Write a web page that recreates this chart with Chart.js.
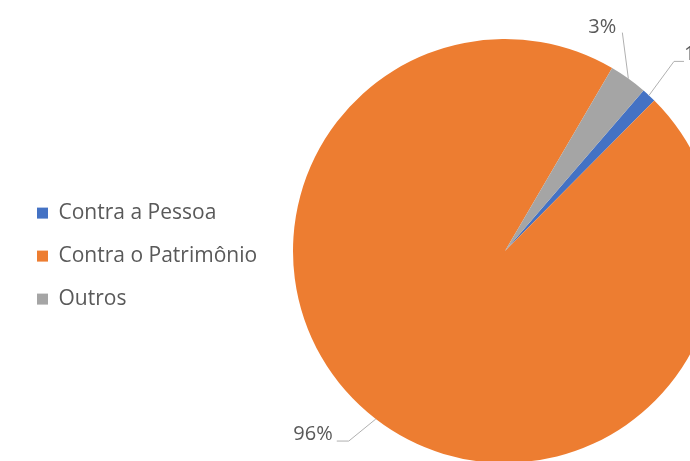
<!DOCTYPE html>
<html>
<head>
<meta charset="utf-8">
<script src="https://cdn.jsdelivr.net/npm/chart.js@4/dist/chart.umd.min.js"></script>
<style>
html,body{margin:0;padding:0;background:#fff;overflow:hidden;width:690px;height:461px}
#wrap{position:absolute;left:0;top:0;width:800px;height:500px}
</style>
</head>
<body>
<div id="wrap"><canvas id="pie" width="800" height="500"></canvas></div>
<script>
var categories = ['Contra a Pessoa', 'Contra o Patrimônio', 'Outros'];
var shares = [1.1, 96.0, 2.9];
var shareLabels = ['1%', '96%', '3%'];
var sliceColors = ['#4472C4', '#ED7D31', '#A5A5A5'];

// leader lines: elbow offset from the slice edge, horizontal tail, text offset from line end
var leaderLayout = [
  {elbow: [25, -34], tail: 10, text: [0, -7], align: 'left'},
  {elbow: [-27, 22], tail: -12, text: [-4, -7], align: 'right'},
  {elbow: [-6, -46], tail: 0, text: [-20, -5], align: 'center'}
];

var leaderLabels = {
  id: 'leaderLabels',
  afterDatasetsDraw: function(chart){
    var ctx = chart.ctx;
    var arcs = chart.getDatasetMeta(0).data;
    ctx.save();
    arcs.forEach(function(arc, i){
      var p = arc.getProps(['x','y','startAngle','endAngle','outerRadius'], true);
      var mid = (p.startAngle + p.endAngle) / 2;
      var ex = p.x + Math.cos(mid) * p.outerRadius;
      var ey = p.y + Math.sin(mid) * p.outerRadius;
      var lay = leaderLayout[i];
      var bx = ex + lay.elbow[0], by = ey + lay.elbow[1];
      var tx = bx + lay.tail;
      ctx.strokeStyle = '#b0b0b0';
      ctx.lineWidth = 1;
      ctx.beginPath();
      ctx.moveTo(ex, ey);
      ctx.lineTo(bx, by);
      if(lay.tail) ctx.lineTo(tx, by);
      ctx.stroke();
      ctx.fillStyle = '#595959';
      ctx.font = '20px "Open Sans"';
      ctx.textAlign = lay.align;
      ctx.textBaseline = 'middle';
      ctx.fillText(shareLabels[i], tx + lay.text[0], by + lay.text[1]);
    });
    ctx.restore();
  }
};

var chart = new Chart(document.getElementById('pie'), {
  type: 'pie',
  data: {
    labels: categories,
    datasets: [{
      data: shares,
      backgroundColor: sliceColors,
      borderWidth: 0
    }]
  },
  options: {
    responsive: false,
    animation: false,
    events: [],
    rotation: 40.8,
    layout: {padding: {left: 15, top: 39, bottom: 37, right: 40}},
    plugins: {
      tooltip: {enabled: false},
      legend: {
        position: 'left',
        align: 'center',
        title: {display: true, text: '', font: {size: 1}, padding: {top: 9, bottom: 0}},
        labels: {
          boxWidth: 11,
          boxHeight: 11,
          padding: 22,
          color: '#595959',
          font: {family: '"Open Sans"', size: 21}
        }
      }
    }
  },
  plugins: [leaderLabels]
});

// put the pie centre at x = 505 like the original
chart.options.layout.padding.right = 800 - (1010 - chart.chartArea.left);
chart.update('none');
</script>
</body>
</html>
